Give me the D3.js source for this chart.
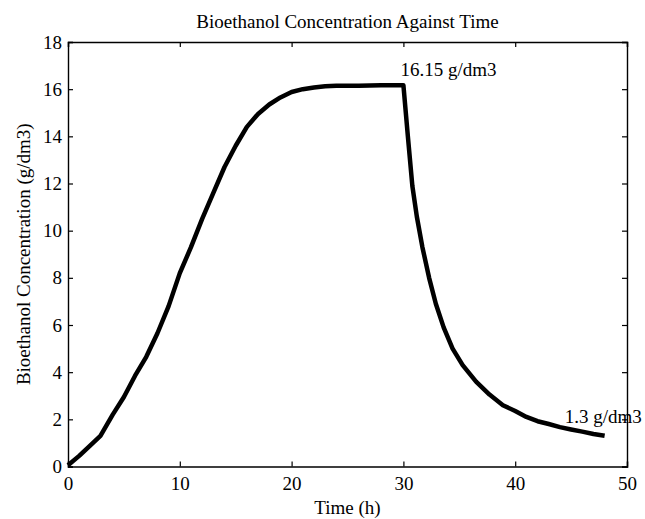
<!DOCTYPE html>
<html>
<head>
<meta charset="utf-8">
<script src="https://cdn.jsdelivr.net/npm/d3@7"></script>
<style>
  body { margin: 0; background: #fff; }
  svg text { font-family: "Liberation Serif", "Times New Roman", serif; fill: #000; }
</style>
</head>
<body>
<div id="chart"></div>
<script>
// values
var time = [0, 1, 2, 2.9, 4, 5, 6, 7, 8, 9, 10, 11, 12, 13, 14, 15, 16, 17, 18, 19, 20,
            21, 22, 23, 24, 25, 26, 27, 28, 29, 30, 30.4, 30.8, 31.2, 31.7, 32.3, 32.9,
            33.6, 34.4, 35.3, 36.5, 37.7, 38.9, 40, 41, 42, 43, 44, 45, 46, 47, 48]
var conc = [0.05, 0.45, 0.9, 1.3, 2.2, 2.95, 3.85, 4.65, 5.65, 6.8, 8.2, 9.3, 10.5, 11.6,
            12.7, 13.6, 14.4, 14.95, 15.35, 15.65, 15.88, 16.0, 16.07, 16.12, 16.14, 16.15,
            16.15, 16.16, 16.17, 16.17, 16.17, 14.0, 11.9, 10.6, 9.3, 8.0, 6.9, 5.9, 5.0,
            4.3, 3.6, 3.05, 2.6, 2.35, 2.1, 1.92, 1.8, 1.67, 1.57, 1.48, 1.38, 1.3]
var xTicks = [0, 10, 20, 30, 40, 50]
var yTicks = [0, 2, 4, 6, 8, 10, 12, 14, 16, 18]
var notes = [{t: 30, v: 16.15, label: "16.15 g/dm3"}, {t: 48, v: 1.3, label: "1.3 g/dm3"}]

var width = 645, height = 519
var margin = {top: 42, right: 18, bottom: 52.5, left: 68}
var w = width - margin.left - margin.right
var h = height - margin.top - margin.bottom
var fs = "19px"

var svg = d3.select("#chart").append("svg").attr("width", width).attr("height", height)
var g = svg.append("g").attr("transform", "translate(" + margin.left + "," + margin.top + ")")

var x = d3.scaleLinear().domain([0, 50]).range([0, w])
var y = d3.scaleLinear().domain([0, 18]).range([h, 0])

// axes: MATLAB style box, ticks pointing inward on all four sides
var tk = 5
g.append("g").attr("transform", "translate(0," + h + ")")
  .call(d3.axisBottom(x).tickValues(xTicks).tickSize(-tk).tickPadding(10))
g.append("g")
  .call(d3.axisLeft(y).tickValues(yTicks).tickSize(-tk).tickPadding(6))
g.append("g")
  .call(d3.axisTop(x).tickValues(xTicks).tickSize(-tk).tickFormat(""))
g.append("g").attr("transform", "translate(" + w + ",0)")
  .call(d3.axisRight(y).tickValues(yTicks).tickSize(-tk).tickFormat(""))

g.selectAll("g").attr("font-family", "Liberation Serif").attr("font-size", fs)
g.selectAll(".domain").attr("stroke", "#000").attr("stroke-width", 1.4)
g.selectAll(".tick line").attr("stroke", "#000").attr("stroke-width", 1.2)
g.selectAll(".tick text").style("font-size", fs)

// curve
var line = d3.line().x(function(d, i) { return x(time[i]) }).y(function(d) { return y(d) })
g.append("path").datum(conc)
  .attr("d", line)
  .attr("fill", "none")
  .attr("stroke", "#000")
  .attr("stroke-width", 4.5)
  .attr("stroke-linejoin", "round")

// annotations
g.selectAll(".note").data(notes).enter().append("text")
  .attr("class", "note")
  .attr("x", function(d) { return x(d.t) + (d.t > 40 ? -40 : -3) })
  .attr("y", function(d) { return y(d.v) + (d.t > 40 ? -13 : -10) })
  .style("font-size", fs)
  .text(function(d) { return d.label })

// titles
svg.append("text").attr("x", margin.left + w / 2).attr("y", 28)
  .attr("text-anchor", "middle").style("font-size", fs)
  .text("Bioethanol Concentration Against Time")
svg.append("text").attr("x", margin.left + w / 2).attr("y", 514)
  .attr("text-anchor", "middle").style("font-size", fs)
  .text("Time (h)")
svg.append("text")
  .attr("transform", "translate(30," + (margin.top + h / 2) + ") rotate(-90)")
  .attr("text-anchor", "middle").style("font-size", fs)
  .text("Bioethanol Concentration (g/dm3)")
</script>
</body>
</html>
